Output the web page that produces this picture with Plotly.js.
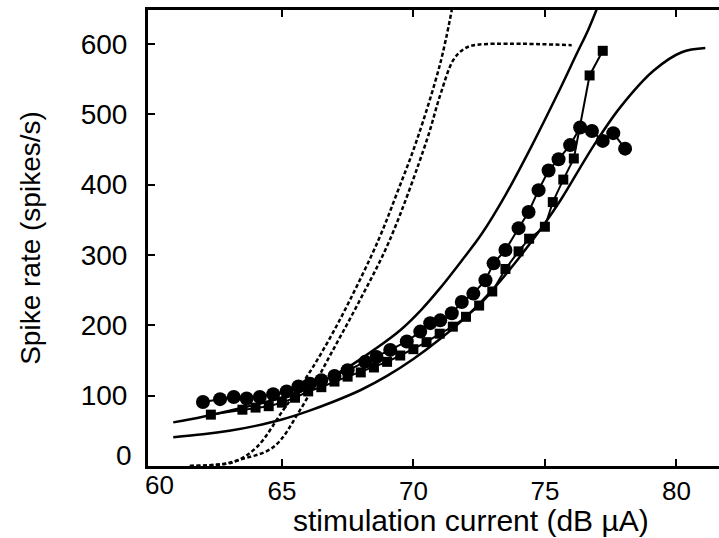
<!DOCTYPE html>
<html>
<head>
<meta charset="utf-8">
<script src="https://cdn.plot.ly/plotly-3.0.1.min.js"></script>
<style>html,body{margin:0;padding:0;background:#fff;}#chart{width:719px;height:538px;}</style>
</head>
<body>
<div id="chart"></div>
<script>
// Measured data (circles)
const circleX = [62.0, 62.65, 63.17, 63.66, 64.16, 64.67, 65.18, 65.63, 66.07, 66.5, 67.0, 67.5, 68.17, 68.6, 69.12, 69.75, 70.26, 70.64, 71.02, 71.46, 71.84, 72.28, 72.74, 73.05, 73.5, 74.0, 74.38, 74.76, 75.14, 75.52, 75.96, 76.34, 76.79, 77.2, 77.6, 78.05];
const circleY = [91, 95, 98, 96, 98, 102, 106, 113, 117, 122, 128, 136, 148, 155, 165, 177, 191, 203, 207, 217, 233, 245, 264, 288, 307, 338, 361, 392, 420, 436, 456, 481, 476, 462, 473, 451];
// Measured data (squares)
const squareX = [62.3, 63.5, 64.0, 64.5, 65.0, 65.5, 66.0, 66.5, 67.0, 67.5, 68.0, 68.5, 69.0, 69.5, 70.0, 70.5, 71.0, 71.5, 72.0, 72.5, 73.0, 73.5, 74.0, 74.4, 75.0, 75.3, 75.7, 76.1, 76.7, 77.2];
const squareY = [73, 80, 83, 85, 90, 97, 106, 112, 120, 127, 133, 140, 148, 157, 166, 176, 188, 198, 212, 228, 248, 280, 305, 323, 340, 375, 407, 437, 555, 590];
// Solid model curves
const fitUpperX = [60.87, 62, 63.3, 64.5, 65.5, 66.5, 67.5, 68.5, 69.5, 70.3, 71, 71.8, 72.6, 73.5, 74.5, 75.5, 76.2, 76.65, 76.98];
const fitUpperY = [62, 70, 81, 92, 104, 120, 140, 165, 193, 222, 252, 290, 330, 385, 455, 530, 585, 620, 650];
const fitLowerX = [60.87, 62, 63, 64, 65, 66, 67, 68, 69, 70, 71, 72, 73, 74, 75, 75.6, 76.85, 77.87, 79.14, 80.2, 81.1];
const fitLowerY = [41, 45, 50, 57, 66, 78, 92, 108, 128, 152, 180, 212, 250, 295, 345, 378, 455, 510, 562, 588, 594];
// Dashed model curves
const dashLeftX = [61.5, 62.5, 63.2, 64.05, 65.06, 65.95, 66.8, 67.59, 68.67, 69.4, 70.13, 71.02, 71.46];
const dashLeftY = [0, 2, 6, 27, 80, 127, 180, 236, 321, 390, 463, 572, 648];
const dashRightX = [61.5, 62.5, 63.4, 64.68, 65.7, 66.8, 67.97, 69.1, 70.51, 71.02, 71.52, 71.9, 72.3, 76.02];
const dashRightY = [0, 1, 9, 27, 80, 155, 236, 321, 463, 527, 577, 592, 598, 598];
// Ticks
const xTicks = [65, 70, 75, 80];
const yTicks = [100, 200, 300, 400, 500, 600];

const FONT = 'Liberation Sans, Arial, sans-serif';
const traces = [
  {x: dashLeftX, y: dashLeftY, mode: 'lines', line: {color: '#000', width: 2.5, dash: '4px,2.5px', shape: 'spline'}},
  {x: dashRightX, y: dashRightY, mode: 'lines', line: {color: '#000', width: 2.5, dash: '4px,2.5px', shape: 'spline'}},
  {x: fitUpperX, y: fitUpperY, mode: 'lines', line: {color: '#000', width: 2.5, shape: 'spline'}},
  {x: fitLowerX, y: fitLowerY, mode: 'lines', line: {color: '#000', width: 2.5, shape: 'spline'}},
  {x: squareX, y: squareY, mode: 'lines+markers', line: {color: '#000', width: 2}, marker: {symbol: 'square', size: 10, color: '#000'}},
  {x: circleX, y: circleY, mode: 'lines+markers', line: {color: '#000', width: 2}, marker: {symbol: 'circle', size: 14, color: '#000'}}
];

const layout = {
  width: 719, height: 538,
  margin: {l: 148, r: 0, t: 10, b: 72},
  paper_bgcolor: '#fff', plot_bgcolor: '#fff',
  showlegend: false,
  font: {family: FONT, color: '#000', size: 28},
  xaxis: {
    range: [59.91, 81.62], tickvals: xTicks, ticktext: xTicks.map(String),
    ticks: 'inside', ticklen: 7, tickwidth: 2, tickcolor: '#000',
    showline: true, linewidth: 3, linecolor: '#000', mirror: 'ticks',
    showgrid: false, zeroline: false,
    tickfont: {family: FONT, size: 26, color: '#000'},
    ticklabelstandoff: 0
  },
  yaxis: {
    range: [0, 648], tickvals: yTicks, ticktext: yTicks.map(String),
    ticks: 'inside', ticklen: 7, tickwidth: 2, tickcolor: '#000',
    showline: true, linewidth: 3, linecolor: '#000', mirror: false,
    showgrid: false, zeroline: false,
    tickfont: {family: FONT, size: 28, color: '#000'},
    ticklabelstandoff: 12,
    title: {text: 'Spike rate (spikes/s)', font: {family: FONT, size: 28, color: '#000'}, standoff: 32}
  },
  annotations: [
    {xref: 'x', yref: 'paper', x: 60.35, y: 0, yshift: -2, yanchor: 'top', xanchor: 'center', text: '60', showarrow: false, font: {family: FONT, size: 26, color: '#000'}},
    {xref: 'paper', yref: 'y', x: 0, xshift: -14, y: 15, xanchor: 'right', yanchor: 'middle', text: '0', showarrow: false, font: {family: FONT, size: 28, color: '#000'}},
    {xref: 'paper', yref: 'paper', x: 0.566, y: 0, yshift: -36, yanchor: 'top', xanchor: 'center', text: 'stimulation current (dB µA)', showarrow: false, font: {family: FONT, size: 30, color: '#000'}}
  ]
};

Plotly.newPlot('chart', traces, layout, {staticPlot: true, displayModeBar: false});
</script>
</body>
</html>
